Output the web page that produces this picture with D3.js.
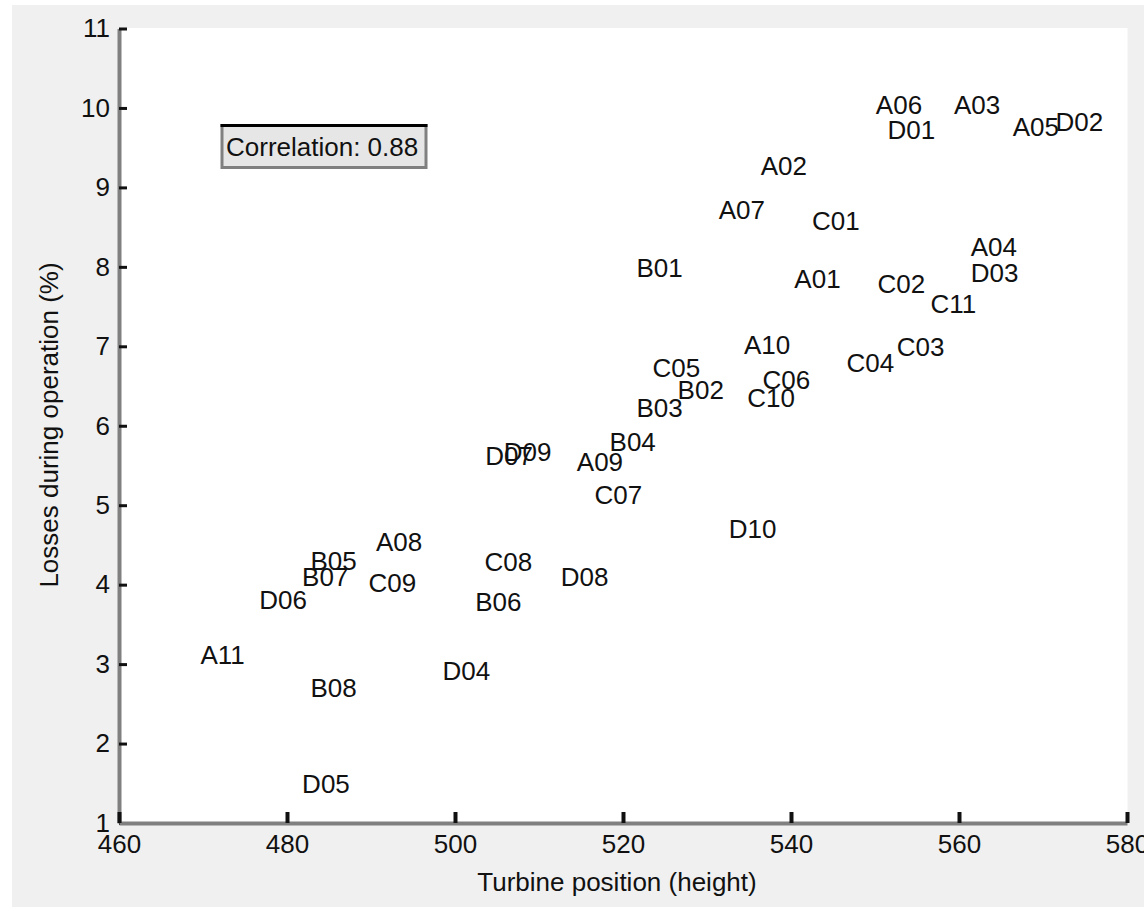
<!DOCTYPE html>
<html>
<head>
<meta charset="utf-8">
<script src="https://cdn.jsdelivr.net/npm/d3@7/dist/d3.min.js"></script>
<style>
  html, body { margin: 0; padding: 0; background: #ffffff; }
  svg { display: block; }
  text { font-family: "Liberation Sans", Arial, sans-serif; }
</style>
</head>
<body>
<svg id="chart" width="1144" height="907"></svg>
<script>
// ---- data ----
const labels = ["A06","D01","A03","A05","D02","A02","A07","C01","A04","D03",
                "A01","C02","C11","B01","C05","B02","B03","B04","A09","C07",
                "D07","D09","A10","C03","C04","C06","C10","D10","A08","B05",
                "B07","C09","D06","C08","D08","B06","A11","D04","B08","D05"];
const heights = [550.1,551.5,559.4,566.4,571.5,536.4,531.4,542.5,561.4,561.4,
                 540.4,550.3,556.6,521.6,523.5,526.5,521.6,518.4,514.5,516.6,
                 503.6,505.8,534.4,552.6,546.6,536.6,534.8,532.6,490.6,482.8,
                 481.8,489.7,476.7,503.5,512.6,502.4,469.7,498.5,482.8,481.8];
const losses  = [10.04,9.73,10.04,9.77,9.83,9.27,8.72,8.58,8.26,7.93,
                 7.85,7.79,7.54,7.99,6.73,6.45,6.23,5.80,5.55,5.13,
                 5.62,5.68,7.02,7.00,6.79,6.58,6.36,4.71,4.54,4.30,
                 4.10,4.02,3.81,4.29,4.10,3.79,3.12,2.92,2.70,1.49];
const xTicks = [460,480,500,520,540,560,580];
const yTicks = [1,2,3,4,5,6,7,8,9,10,11];
const xDomain = [460,580];
const yDomain = [1,11];
const correlationText = "Correlation: 0.88";
const xTitle = "Turbine position (height)";
const yTitle = "Losses during operation (%)";

(function () {
// ---- layout ----
const svg = d3.select("#chart");
const W = 1144, H = 907;
const pl = 119, pr = 1127, pt = 28.5, pb = 823;

svg.append("rect").attr("x", 0).attr("y", 0).attr("width", W).attr("height", H).attr("fill", "#ffffff");
svg.append("rect").attr("x", 12).attr("y", 5).attr("width", W - 12).attr("height", H - 5).attr("fill", "#f0f0f0");

const x = d3.scaleLinear().domain(xDomain).range([pl, pr]);
const y = d3.scaleLinear().domain(yDomain).range([pb, pt]);

// plot area
svg.append("rect").attr("x", pl).attr("y", pt - 0.5)
   .attr("width", pr - pl + 0.5).attr("height", pb - pt + 0.5)
   .attr("fill", "#ffffff");

// y axis
const gy = svg.append("g").attr("transform", `translate(${pl},0)`)
  .call(d3.axisLeft(y).tickValues(yTicks).tickSizeInner(-8).tickSizeOuter(0).tickPadding(9).tickFormat(d3.format("d")));
gy.select(".domain").attr("stroke", "#808080").attr("stroke-width", 4);
gy.selectAll(".tick line").attr("stroke", "#111").attr("stroke-width", 3);
gy.selectAll(".tick text").attr("font-size", 26).attr("fill", "#111")
  .attr("font-family", "'Liberation Sans', Arial, sans-serif");

// x axis
const gx = svg.append("g").attr("transform", `translate(0,${pb})`)
  .call(d3.axisBottom(x).tickValues(xTicks).tickSizeInner(-11).tickSizeOuter(0).tickPadding(12).tickFormat(d3.format("d")));
gx.select(".domain").attr("stroke", "#808080").attr("stroke-width", 4);
gx.selectAll(".tick line").attr("stroke", "#111").attr("stroke-width", 4);
gx.selectAll(".tick text").attr("font-size", 26).attr("fill", "#111")
  .attr("font-family", "'Liberation Sans', Arial, sans-serif");

// axis titles
svg.append("text").attr("x", 617).attr("y", 891)
  .attr("text-anchor", "middle").attr("font-size", 26).attr("fill", "#111")
  .text(xTitle);
svg.append("text").attr("transform", "translate(58,425) rotate(-90)")
  .attr("text-anchor", "middle").attr("font-size", 26).attr("fill", "#111")
  .text(yTitle);

// point labels
const pts = labels.map((l, i) => ({ label: l, h: heights[i], v: losses[i] }));
svg.append("g").selectAll("text").data(pts).join("text")
  .attr("x", d => x(d.h))
  .attr("y", d => y(d.v))
  .attr("dy", "0.36em")
  .attr("font-size", 26)
  .attr("fill", "#111")
  .text(d => d.label);

// correlation box
const bx = 222, by = 125.5, bw = 204, bh = 42;
svg.append("rect").attr("x", bx).attr("y", by).attr("width", bw).attr("height", bh)
  .attr("fill", "#e6e6e6").attr("stroke", "#808080").attr("stroke-width", 3);
svg.append("line").attr("x1", bx - 1.5).attr("x2", bx + bw + 1.5).attr("y1", by).attr("y2", by)
  .attr("stroke", "#000").attr("stroke-width", 3);
svg.append("text").attr("x", bx + 4).attr("y", by + bh / 2).attr("dy", "0.36em")
  .attr("font-size", 26).attr("fill", "#111").text(correlationText);
})();
</script>
</body>
</html>
